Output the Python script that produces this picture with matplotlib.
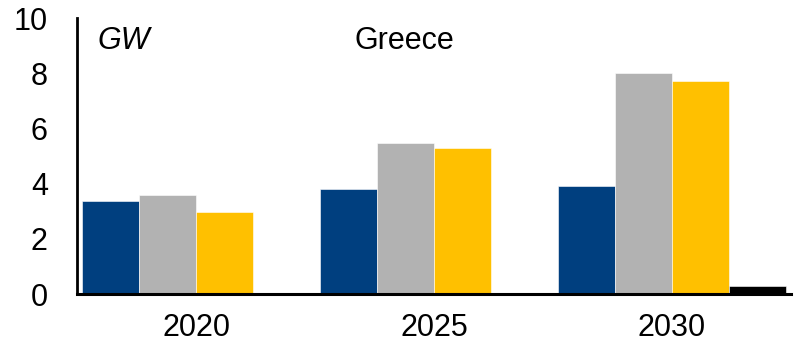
import matplotlib
matplotlib.use("Agg")
import matplotlib.pyplot as plt
import numpy as np

plt.rcParams['font.family'] = ['Liberation Sans', 'DejaVu Sans']

years = ["2020", "2025", "2030"]
series_a = [3.38, 3.82, 3.92]
series_b = [3.60, 5.49, 8.00]
series_c = [2.98, 5.31, 7.72]
series_d = [0.04, 0.04, 0.30]

colors = ["#003F7F", "#B2B2B2", "#FFC000", "#000000"]

fig = plt.figure(figsize=(7.99, 3.47), dpi=100)
ax = fig.add_axes([0.0964, 0.1527, 0.8936, 0.795])

x = np.arange(len(years))
w = 0.24
for i, (vals, c) in enumerate(zip([series_a, series_b, series_c, series_d], colors)):
    ax.bar(x + (i - 1.5) * w, vals, width=w, color=c, edgecolor="white",
           linewidth=0.4)

ax.set_xlim(-0.5, 2.5)
ax.set_ylim(0, 10)
ax.set_yticks([0, 2, 4, 6, 8, 10])
ax.set_xticks(x)
ax.set_xticklabels(years)

for s in ["top", "right"]:
    ax.spines[s].set_visible(False)
ax.spines["left"].set_linewidth(2)
ax.spines["bottom"].set_linewidth(2.2)
ax.tick_params(axis="both", length=0, labelsize=22)
ax.tick_params(axis="y", pad=21)
ax.tick_params(axis="x", pad=14)

ax.text(0.028, 0.916, "GW", transform=ax.transAxes, fontsize=22,
        style="italic", ha="left", va="center")
ax.text(0.459, 0.916, "Greece", transform=ax.transAxes, fontsize=22,
        ha="center", va="center")

fig.savefig("out.png", dpi=100)
